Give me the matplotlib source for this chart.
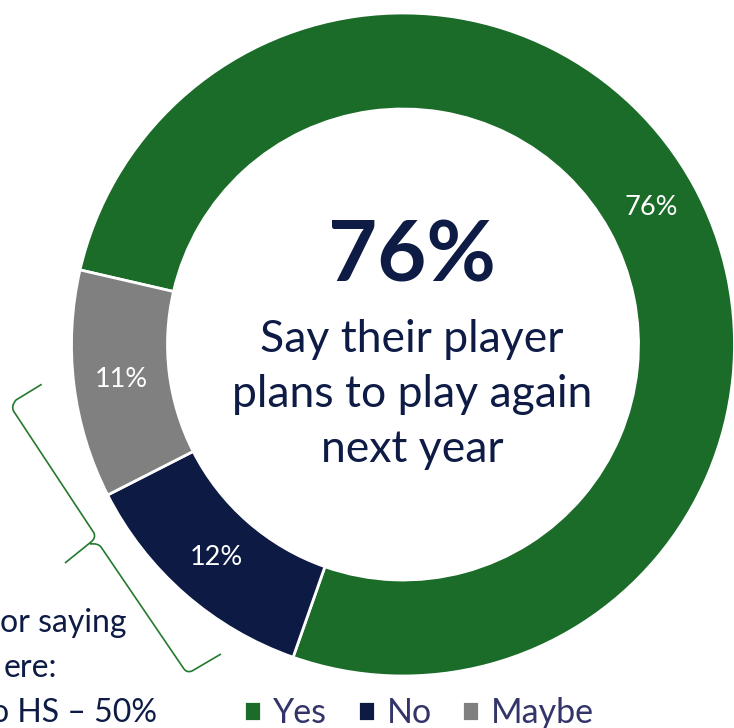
import matplotlib.pyplot as plt
from matplotlib.path import Path
from matplotlib.patches import PathPatch

# survey answers
labels = ["Yes", "No", "Maybe"]
shares = [76, 12, 11]
colors = ["#1B6B29", "#0C1A44", "#808080"]

headline = "76%"
blurb = ["Say their player", "plans to play again", "next year"]
side_note = ["or saying", "ere:", "o HS \u2013 50%"]

navy = "#0D1B45"
plt.rcParams["font.family"] = ["Lato", "DejaVu Sans"]

W, H = 734, 728
fig = plt.figure(figsize=(W / 100, H / 100), dpi=100)
ax = fig.add_axes([0, 0, 1, 1])

# everything below is laid out in pixel units, y pointing up
cx, cy = 403, H - 344.5
R = 331.5
ring = 96
total = sum(shares)

wedges, _, pct = ax.pie(
    shares, colors=colors, startangle=167, counterclock=False,
    radius=R, center=(cx, cy),
    autopct=lambda p: f"{p * total / 100:.0f}%",
    pctdistance=(R - ring / 2) / R,
    wedgeprops=dict(width=ring, edgecolor="white", linewidth=2),
    textprops=dict(color="white", fontsize=19.5),
)

ax.text(412, H - 282, headline, fontsize=61, fontweight="bold",
        color=navy, ha="center", va="baseline")
for i, line in enumerate(blurb):
    ax.text(412, H - 351.7 - 55 * i, line, fontsize=32,
            color=navy, ha="center", va="baseline")

# note text that runs in from the left edge
note_right = [127, 57, 157]
for i, line in enumerate(side_note):
    ax.text(note_right[i], H - 631.7 - 45 * i, line, fontsize=23,
            color=navy, ha="right", va="baseline")

# curly brace linking the No / Maybe slices to the note
brace_pts = [
    (41.7, 384.3), (16, 400), (11, 406), (13.5, 411), (94, 533),
    (96, 538), (91, 542), (65, 563),
    (90, 544), (98, 543), (101, 547), (184, 669), (187, 673), (192, 671),
    (221, 654),
]
brace_codes = [
    Path.MOVETO, Path.LINETO, Path.CURVE3, Path.CURVE3, Path.LINETO,
    Path.CURVE3, Path.CURVE3, Path.LINETO,
    Path.MOVETO, Path.CURVE3, Path.CURVE3, Path.LINETO, Path.CURVE3, Path.CURVE3,
    Path.LINETO,
]
brace = Path([(x, H - y) for x, y in brace_pts], brace_codes)
ax.add_patch(PathPatch(brace, facecolor="none", edgecolor="#237A2E", linewidth=1.2))

ax.legend(wedges, labels, ncol=3, frameon=False, fontsize=24.5,
          loc="upper left", bbox_to_anchor=(244 / W, 1 - 697 / H),
          borderpad=0, borderaxespad=0, handlelength=0.5, handleheight=0.5,
          handletextpad=0.35, columnspacing=0.9, labelcolor="#33356A")

ax.set_xlim(0, W)
ax.set_ylim(0, H)
ax.set_aspect("equal")
ax.axis("off")

fig.savefig("out.png", dpi=100)
